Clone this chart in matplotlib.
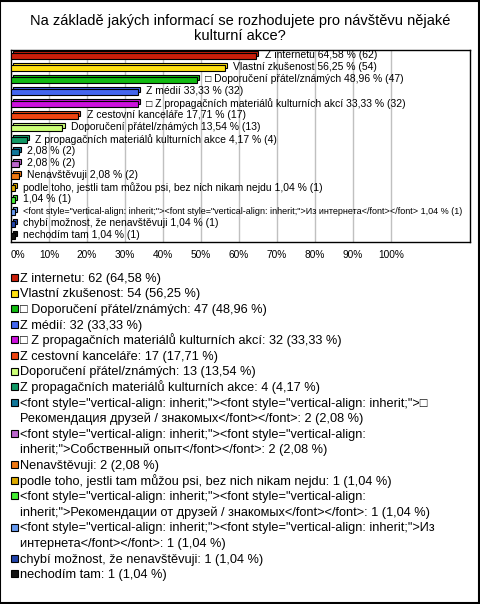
import matplotlib
matplotlib.use("Agg")
import matplotlib.pyplot as plt
from matplotlib.patches import Rectangle

plt.rcParams["font.family"] = ["Liberation Sans", "DejaVu Sans"]

W, H = 480, 604
BOX = "\u25a1"
FONT1 = '<font style="vertical-align: inherit;"><font style="vertical-align: inherit;">'

# ---- data ----
counts = [62, 54, 47, 32, 32, 17, 13, 4, 2, 2, 2, 1, 1, 1, 1, 1]
percents = [64.58, 56.25, 48.96, 33.33, 33.33, 17.71, 13.54, 4.17,
            2.08, 2.08, 2.08, 1.04, 1.04, 1.04, 1.04, 1.04]
# names as printed next to the bars (some are blank in the reference)
bar_names = [
    "Z internetu",
    "Vlastní zkušenost",
    BOX + " Doporučení přátel/známých",
    "Z médií",
    BOX + " Z propagačních materiálů kulturních akcí",
    "Z cestovní kanceláře",
    "Doporučení přátel/známých",
    "Z propagačních materiálů kulturních akce",
    "",
    "",
    "Nenavštěvuji",
    "podle toho, jestli tam můžou psi, bez nich nikam nejdu",
    "",
    FONT1 + "Из интернета</font></font>",
    "chybí možnost, že nenavštěvuji",
    "nechodím tam",
]
# names as printed in the legend (with the reference's line breaks)
legend_names = [
    "Z internetu",
    "Vlastní zkušenost",
    BOX + " Doporučení přátel/známých",
    "Z médií",
    BOX + " Z propagačních materiálů kulturních akcí",
    "Z cestovní kanceláře",
    "Doporučení přátel/známých",
    "Z propagačních materiálů kulturních akce",
    FONT1 + BOX + "\nРекомендация друзей / знакомых</font></font>",
    '<font style="vertical-align: inherit;"><font style="vertical-align:\ninherit;">Собственный опыт</font></font>',
    "Nenavštěvuji",
    "podle toho, jestli tam můžou psi, bez nich nikam nejdu",
    '<font style="vertical-align: inherit;"><font style="vertical-align:\ninherit;">Рекомендации от друзей / знакомых</font></font>',
    FONT1 + "Из\nинтернета</font></font>",
    "chybí možnost, že nenavštěvuji",
    "nechodím tam",
]
colors = ["#C81E0A", "#FFE010", "#11BB11", "#4466EE", "#CC11DD", "#EE4411",
          "#CCFF77", "#119966", "#117799", "#BB66CC", "#EE7711", "#DDAA00",
          "#44EE33", "#6699EE", "#2244AA", "#111111"]
xticks = [0, 10, 20, 30, 40, 50, 60, 70, 80, 90, 100]


def fmt(v):
    return f"{v:.2f}".replace(".", ",")


fig = plt.figure(figsize=(W / 100, H / 100), dpi=100)
fig.patch.set_facecolor("white")
fig.patches.append(Rectangle((0.001, 0.001), 0.997, 0.997, transform=fig.transFigure,
                             fill=False, edgecolor="black", lw=1.5))

# title
fig.text(0.5, 1 - 20.5 / H, "Na základě jakých informací se rozhodujete pro návštěvu nějaké",
         ha="center", va="center", fontsize=10.5)
fig.text(0.5, 1 - 35.5 / H, "kulturní akce?", ha="center", va="center", fontsize=10.5)

# ---- bar chart ----
ax = fig.add_axes([11 / W, 1 - 242 / H, (470 - 11) / W, (242 - 50) / H])
ax.set_xlim(0, 120.8)
ax.set_ylim(len(counts) - 0.5, -0.5)
ypos = list(range(len(counts)))

bh, oy, ox = 0.42, 0.17, 0.55
# back face (3D effect), then front face
ax.barh([y - oy for y in ypos], percents, left=ox, height=bh, color=colors,
        edgecolor="black", lw=0.8, zorder=2)
ax.barh(ypos, percents, height=bh, color=colors, edgecolor="black", lw=0.8, zorder=3)

renderer = fig.canvas.get_renderer()
ax_right = ax.get_window_extent(renderer).x1
for y, p, n, name in zip(ypos, percents, counts, bar_names):
    lab = f"{name} {fmt(p)} % ({n})".strip()
    t = ax.annotate(lab, (p, y - 0.05), xytext=(6, 0), textcoords="offset points",
                    ha="left", va="center", fontsize=7.5, zorder=4)
    # shrink a label that would run past the plot box
    fs = 7.5
    while t.get_window_extent(renderer).x1 > ax_right - 3 and fs > 5:
        fs -= 0.1
        t.set_fontsize(fs)

for v in xticks[1:]:
    ax.axvline(v, color="#C0C0C0", lw=1, zorder=1)
ax.set_yticks([])
ax.set_xticks(xticks)
ax.set_xticklabels([f"{v}%" for v in xticks], fontsize=7.3)
ax.get_xticklabels()[0].set_ha("left")
ax.tick_params(axis="x", length=0, pad=6)
for s in ax.spines.values():
    s.set_linewidth(1.0)

# ---- legend below ----
line_h = 15.6
line = 0
y0 = 293 - line_h
for name, n, p, c in zip(legend_names, counts, percents, colors):
    yc = y0 + line * line_h
    fig.patches.append(Rectangle((11 / W, 1 - (yc + 3.5) / H), 7 / W, 7 / H,
                                 transform=fig.transFigure, facecolor=c,
                                 edgecolor="black", lw=0.8))
    txt = f"{name}: {n} ({fmt(p)} %)"
    for k, part in enumerate(txt.split("\n")):
        fig.text(20 / W, 1 - (yc + 4.5 + k * line_h) / H, part, ha="left",
                 va="baseline", fontsize=9.2)
    line += txt.count("\n") + 1

fig.savefig("out.png", dpi=100, facecolor="white")
